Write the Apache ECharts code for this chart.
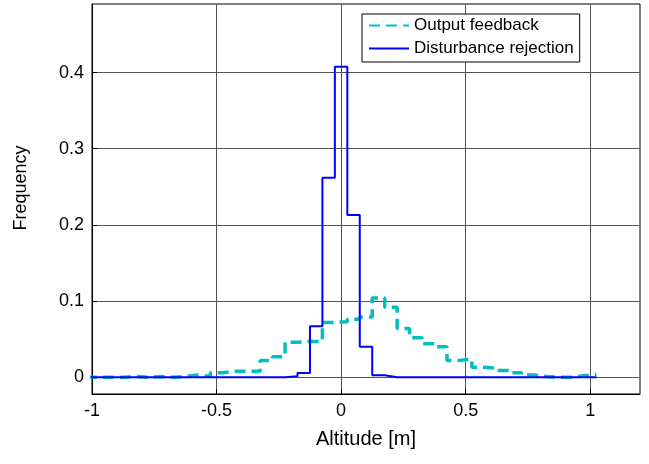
<!DOCTYPE html>
<html>
<head>
<meta charset="utf-8">
<script src="https://cdn.jsdelivr.net/npm/echarts@6/dist/echarts.min.js"></script>
<style>
  html, body { margin: 0; padding: 0; background: #fff; }
  #chart { width: 649px; height: 464px; }
</style>
</head>
<body>
<div id="chart"></div>
<script>
// bin centres -1 : 0.05 : 1, each bin 0.05 wide
const binCenters = Array.from({ length: 41 }, (_, i) => Math.round((-1 + i * 0.05) * 100) / 100)
const binWidth = 0.05

// Output feedback histogram
const outputFeedback = [
  0, 0, 0, 0.001, 0, 0.001, 0, 0.001,          // -1.00 .. -0.65
  0.003, 0.001, 0.006, 0.008, 0.008, 0.008,    // -0.60 .. -0.35
  0.022, 0.027, 0.046, 0.047, 0.047,           // -0.30 .. -0.10
  0.072, 0.073, 0.076, 0.079,                  // -0.05 .. 0.10
  0.104, 0.092, 0.064, 0.052, 0.044, 0.040,    // 0.15 .. 0.40
  0.022, 0.024, 0.013, 0.012, 0.009, 0.006,    // 0.45 .. 0.70
  0.003, 0.001, 0, 0, 0.002, 0.004             // 0.75 .. 1.00
]

// Disturbance rejection histogram
const disturbanceRejection = [
  0, 0, 0, 0, 0, 0, 0, 0, 0, 0, 0, 0, 0, 0, 0, 0,  // -1.00 .. -0.25
  0.0013, 0.0057, 0.067, 0.262, 0.4075,            // -0.20 .. 0.00
  0.213, 0.040, 0.0026,                            // 0.05 .. 0.15
  0, 0, 0, 0, 0, 0, 0, 0, 0, 0, 0, 0, 0, 0, 0, 0, 0 // 0.20 .. 1.00
]

const xTicks = [-1, -0.5, 0, 0.5, 1]
const yTicks = [0, 0.1, 0.2, 0.3, 0.4]

// stairs: one point per left edge, plus the last right edge
function stairs(values) {
  const pts = binCenters.map((c, i) => [c - binWidth / 2, values[i]])
  pts.push([binCenters[binCenters.length - 1] + binWidth / 2, values[values.length - 1]])
  return pts
}

const font = 'Liberation Sans, Arial, sans-serif'
const chart = echarts.init(document.getElementById('chart'))
chart.setOption({
  animation: false,
  backgroundColor: '#fff',
  grid: {
    left: 92, right: 9, top: 4, bottom: 70,
    show: true, borderColor: '#000', borderWidth: 1
  },
  legend: {
    orient: 'vertical',
    left: 362, top: 14,
    backgroundColor: '#fff',
    borderColor: '#000', borderWidth: 1,
    padding: [3, 6, 5, 6],
    itemGap: 6,
    itemWidth: 40, itemHeight: 12,
    itemStyle: { opacity: 0 },
    textStyle: { fontFamily: font, fontSize: 17, color: '#000' },
    data: ['Output feedback', 'Disturbance rejection']
  },
  xAxis: {
    type: 'value', min: -1, max: 1.2,
    name: 'Altitude [m]', nameLocation: 'middle', nameGap: 35,
    nameTextStyle: { fontFamily: font, fontSize: 20, color: '#000' },
    axisLine: { onZero: false, lineStyle: { color: '#000' } },
    axisTick: { inside: true, length: 5, customValues: xTicks, lineStyle: { color: '#000' } },
    axisLabel: { customValues: xTicks, margin: 8, fontFamily: font, fontSize: 18, color: '#000' },
    splitLine: { show: true, lineStyle: { color: '#555', width: 1 } }
  },
  yAxis: {
    type: 'value', min: -0.022, max: 0.49,
    name: 'Frequency', nameLocation: 'middle', nameGap: 62,
    nameTextStyle: { fontFamily: font, fontSize: 18, color: '#000', padding: [0, 0, 0, 22] },
    axisLine: { onZero: false, lineStyle: { color: '#000' } },
    axisTick: { inside: true, length: 5, customValues: yTicks, lineStyle: { color: '#000' } },
    axisLabel: { customValues: yTicks, margin: 8, fontFamily: font, fontSize: 18, color: '#000' },
    splitLine: { show: true, lineStyle: { color: '#555', width: 1 } }
  },
  series: [
    {
      name: 'Output feedback', type: 'line', step: 'end',
      data: stairs(outputFeedback),
      symbol: 'none', clip: true,
      lineStyle: { color: '#00bfbf', width: 3.5, type: [11, 6] },
      itemStyle: { color: '#00bfbf' },
      z: 3
    },
    {
      name: 'Disturbance rejection', type: 'line', step: 'end',
      data: stairs(disturbanceRejection),
      symbol: 'none', clip: true,
      lineStyle: { color: '#0000ff', width: 2 },
      itemStyle: { color: '#0000ff' },
      z: 4
    }
  ]
})
</script>
</body>
</html>
